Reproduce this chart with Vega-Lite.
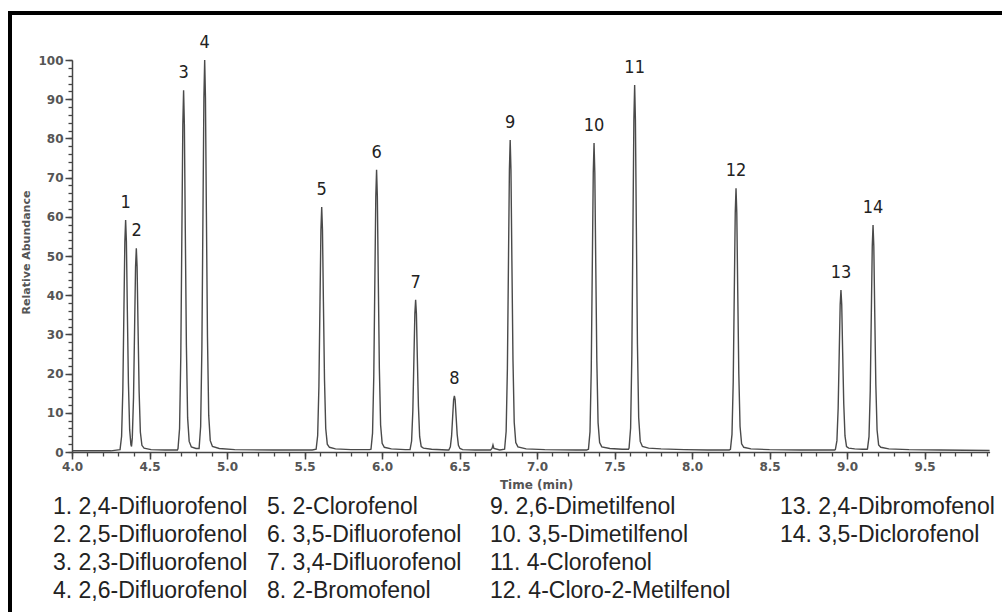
{
  "$schema": "https://vega.github.io/schema/vega-lite/v6.json",
  "width": 1000,
  "height": 607,
  "autosize": {"type": "none"},
  "padding": {"left": 10, "top": 13, "right": 0, "bottom": 0},
  "background": "white",
  "config": {"view": {"stroke": "black", "strokeWidth": 4}},
  "datasets": {
    "trace": [
      {"t": 4.0, "v": 0.3}, {"t": 4.25, "v": 0.3},
      {"t": 4.310, "v": 0.6}, {"t": 4.320, "v": 4.0}, {"t": 4.328, "v": 15.9}, {"t": 4.335, "v": 36.3}, {"t": 4.341, "v": 53.7}, {"t": 4.346, "v": 59.2}, {"t": 4.351, "v": 53.7}, {"t": 4.357, "v": 36.3}, {"t": 4.364, "v": 17.6}, {"t": 4.372, "v": 5.7}, {"t": 4.380, "v": 1.9},
      {"t": 4.384, "v": 1.4}, {"t": 4.389, "v": 3.6}, {"t": 4.397, "v": 14.0}, {"t": 4.404, "v": 32.0}, {"t": 4.410, "v": 47.2}, {"t": 4.415, "v": 52.0}, {"t": 4.420, "v": 47.2}, {"t": 4.426, "v": 32.0}, {"t": 4.433, "v": 15.5}, {"t": 4.441, "v": 5.1}, {"t": 4.451, "v": 1.7}, {"t": 4.465, "v": 1.0}, {"t": 4.51, "v": 0.6}, {"t": 4.60, "v": 0.5}, {"t": 4.68, "v": 0.5},
      {"t": 4.684, "v": 0.9}, {"t": 4.694, "v": 6.0}, {"t": 4.702, "v": 24.6}, {"t": 4.709, "v": 56.4}, {"t": 4.715, "v": 83.5}, {"t": 4.720, "v": 92.3}, {"t": 4.725, "v": 83.5}, {"t": 4.731, "v": 56.4}, {"t": 4.738, "v": 27.2}, {"t": 4.746, "v": 8.7}, {"t": 4.756, "v": 2.7}, {"t": 4.770, "v": 1.3}, {"t": 4.80, "v": 0.9},
      {"t": 4.820, "v": 0.9}, {"t": 4.830, "v": 6.5}, {"t": 4.838, "v": 26.6}, {"t": 4.845, "v": 61.1}, {"t": 4.851, "v": 90.4}, {"t": 4.856, "v": 100}, {"t": 4.861, "v": 90.4}, {"t": 4.867, "v": 61.1}, {"t": 4.874, "v": 29.4}, {"t": 4.882, "v": 9.4}, {"t": 4.892, "v": 2.9}, {"t": 4.906, "v": 1.4}, {"t": 4.95, "v": 0.9}, {"t": 5.05, "v": 0.6}, {"t": 5.30, "v": 0.5}, {"t": 5.55, "v": 0.5},
      {"t": 5.575, "v": 0.7}, {"t": 5.585, "v": 4.2}, {"t": 5.593, "v": 16.8}, {"t": 5.600, "v": 38.3}, {"t": 5.606, "v": 56.7}, {"t": 5.611, "v": 62.5}, {"t": 5.616, "v": 56.7}, {"t": 5.622, "v": 38.3}, {"t": 5.629, "v": 18.5}, {"t": 5.637, "v": 6.0}, {"t": 5.647, "v": 2.0}, {"t": 5.661, "v": 1.2}, {"t": 5.70, "v": 0.8}, {"t": 5.80, "v": 0.6}, {"t": 5.92, "v": 0.6},
      {"t": 5.929, "v": 0.7}, {"t": 5.939, "v": 4.8}, {"t": 5.947, "v": 19.3}, {"t": 5.954, "v": 44.1}, {"t": 5.960, "v": 65.2}, {"t": 5.965, "v": 72.0}, {"t": 5.970, "v": 65.2}, {"t": 5.976, "v": 44.1}, {"t": 5.983, "v": 21.3}, {"t": 5.991, "v": 6.9}, {"t": 6.001, "v": 2.2}, {"t": 6.015, "v": 1.2}, {"t": 6.06, "v": 0.8}, {"t": 6.15, "v": 0.6},
      {"t": 6.181, "v": 0.6}, {"t": 6.191, "v": 2.8}, {"t": 6.199, "v": 10.6}, {"t": 6.206, "v": 24.0}, {"t": 6.212, "v": 35.3}, {"t": 6.217, "v": 38.8}, {"t": 6.222, "v": 35.3}, {"t": 6.228, "v": 24.0}, {"t": 6.235, "v": 11.7}, {"t": 6.243, "v": 3.9}, {"t": 6.253, "v": 1.4}, {"t": 6.267, "v": 1.0}, {"t": 6.32, "v": 0.7}, {"t": 6.42, "v": 0.5},
      {"t": 6.431, "v": 0.5}, {"t": 6.441, "v": 1.3}, {"t": 6.449, "v": 4.1}, {"t": 6.456, "v": 9.1}, {"t": 6.462, "v": 13.3}, {"t": 6.467, "v": 14.3}, {"t": 6.472, "v": 13.3}, {"t": 6.478, "v": 9.1}, {"t": 6.485, "v": 4.5}, {"t": 6.493, "v": 1.7}, {"t": 6.503, "v": 0.9}, {"t": 6.52, "v": 0.6}, {"t": 6.60, "v": 0.5}, {"t": 6.70, "v": 0.5},
      {"t": 6.710, "v": 0.9}, {"t": 6.716, "v": 1.8}, {"t": 6.722, "v": 0.9}, {"t": 6.76, "v": 0.5},
      {"t": 6.791, "v": 0.7}, {"t": 6.801, "v": 5.3}, {"t": 6.809, "v": 21.3}, {"t": 6.816, "v": 48.7}, {"t": 6.822, "v": 72.0}, {"t": 6.827, "v": 79.6}, {"t": 6.832, "v": 72.0}, {"t": 6.838, "v": 48.7}, {"t": 6.845, "v": 23.5}, {"t": 6.853, "v": 7.6}, {"t": 6.863, "v": 2.4}, {"t": 6.877, "v": 1.3}, {"t": 6.93, "v": 0.8}, {"t": 7.05, "v": 0.6}, {"t": 7.25, "v": 0.5}, {"t": 7.32, "v": 0.5},
      {"t": 7.332, "v": 0.7}, {"t": 7.342, "v": 5.2}, {"t": 7.350, "v": 21.0}, {"t": 7.357, "v": 48.2}, {"t": 7.363, "v": 71.3}, {"t": 7.368, "v": 78.8}, {"t": 7.373, "v": 71.3}, {"t": 7.379, "v": 48.2}, {"t": 7.386, "v": 23.3}, {"t": 7.394, "v": 7.5}, {"t": 7.404, "v": 2.4}, {"t": 7.418, "v": 1.3}, {"t": 7.47, "v": 0.9}, {"t": 7.55, "v": 0.7}, {"t": 7.59, "v": 0.7},
      {"t": 7.594, "v": 1.0}, {"t": 7.604, "v": 6.1}, {"t": 7.612, "v": 24.9}, {"t": 7.619, "v": 57.2}, {"t": 7.625, "v": 84.6}, {"t": 7.630, "v": 93.6}, {"t": 7.635, "v": 84.6}, {"t": 7.641, "v": 57.2}, {"t": 7.648, "v": 27.5}, {"t": 7.656, "v": 8.8}, {"t": 7.666, "v": 2.7}, {"t": 7.680, "v": 1.4}, {"t": 7.72, "v": 1.0}, {"t": 7.80, "v": 0.8}, {"t": 7.95, "v": 0.6}, {"t": 8.10, "v": 0.5}, {"t": 8.24, "v": 0.5},
      {"t": 8.248, "v": 0.7}, {"t": 8.258, "v": 4.5}, {"t": 8.266, "v": 18.0}, {"t": 8.273, "v": 41.3}, {"t": 8.279, "v": 61.0}, {"t": 8.284, "v": 67.3}, {"t": 8.289, "v": 61.0}, {"t": 8.295, "v": 41.3}, {"t": 8.302, "v": 19.9}, {"t": 8.310, "v": 6.5}, {"t": 8.320, "v": 2.1}, {"t": 8.334, "v": 1.2}, {"t": 8.38, "v": 0.8}, {"t": 8.50, "v": 0.6}, {"t": 8.70, "v": 0.5}, {"t": 8.92, "v": 0.5},
      {"t": 8.925, "v": 0.6}, {"t": 8.935, "v": 2.9}, {"t": 8.943, "v": 11.2}, {"t": 8.950, "v": 25.5}, {"t": 8.956, "v": 37.6}, {"t": 8.961, "v": 41.3}, {"t": 8.966, "v": 37.6}, {"t": 8.972, "v": 25.5}, {"t": 8.979, "v": 12.4}, {"t": 8.987, "v": 4.1}, {"t": 8.997, "v": 1.4}, {"t": 9.011, "v": 1.0}, {"t": 9.05, "v": 0.8}, {"t": 9.10, "v": 0.7}, {"t": 9.13, "v": 0.7},
      {"t": 9.132, "v": 0.8}, {"t": 9.142, "v": 3.9}, {"t": 9.150, "v": 15.6}, {"t": 9.157, "v": 35.5}, {"t": 9.163, "v": 52.5}, {"t": 9.168, "v": 57.9}, {"t": 9.173, "v": 52.5}, {"t": 9.179, "v": 35.5}, {"t": 9.186, "v": 17.2}, {"t": 9.194, "v": 5.6}, {"t": 9.204, "v": 1.8}, {"t": 9.218, "v": 1.2}, {"t": 9.27, "v": 0.8}, {"t": 9.40, "v": 0.6}, {"t": 9.60, "v": 0.5}, {"t": 9.92, "v": 0.4}
    ],
    "peaks": [
      {"label": "1", "t": 4.346, "h": 59.2},
      {"label": "2", "t": 4.417, "h": 52.0},
      {"label": "3", "t": 4.720, "h": 92.3},
      {"label": "4", "t": 4.856, "h": 100},
      {"label": "5", "t": 5.611, "h": 62.5},
      {"label": "6", "t": 5.965, "h": 72.0},
      {"label": "7", "t": 6.217, "h": 38.8},
      {"label": "8", "t": 6.467, "h": 14.3},
      {"label": "9", "t": 6.827, "h": 79.6},
      {"label": "10", "t": 7.368, "h": 78.8},
      {"label": "11", "t": 7.630, "h": 93.6},
      {"label": "12", "t": 8.284, "h": 67.3},
      {"label": "13", "t": 8.961, "h": 41.3},
      {"label": "14", "t": 9.168, "h": 57.9}
    ],
    "legend": [
      {"name": "1. 2,4-Difluorofenol", "col": 0, "row": 0},
      {"name": "2. 2,5-Difluorofenol", "col": 0, "row": 1},
      {"name": "3. 2,3-Difluorofenol", "col": 0, "row": 2},
      {"name": "4. 2,6-Difluorofenol", "col": 0, "row": 3},
      {"name": "5. 2-Clorofenol", "col": 1, "row": 0},
      {"name": "6. 3,5-Difluorofenol", "col": 1, "row": 1},
      {"name": "7. 3,4-Difluorofenol", "col": 1, "row": 2},
      {"name": "8. 2-Bromofenol", "col": 1, "row": 3},
      {"name": "9. 2,6-Dimetilfenol", "col": 2, "row": 0},
      {"name": "10. 3,5-Dimetilfenol", "col": 2, "row": 1},
      {"name": "11. 4-Clorofenol", "col": 2, "row": 2},
      {"name": "12. 4-Cloro-2-Metilfenol", "col": 2, "row": 3},
      {"name": "13. 2,4-Dibromofenol", "col": 3, "row": 0},
      {"name": "14. 3,5-Diclorofenol", "col": 3, "row": 1}
    ]
  },
  "layer": [
    {
      "layer": [
        {
          "data": {"name": "trace"},
          "mark": {"type": "line", "color": "#4a4a4a", "strokeWidth": 1.4, "interpolate": "linear"},
          "encoding": {
            "x": {
              "field": "t", "type": "quantitative",
              "scale": {"domain": [4, 9.92], "range": [62, 979.6], "nice": false, "zero": false},
              "axis": {
                "orient": "bottom",
                "values": [4, 4.5, 5, 5.5, 6, 6.5, 7, 7.5, 8, 8.5, 9, 9.5],
                "format": ".1f", "offset": -168, "grid": false,
                "tickSize": 7, "tickColor": "#444", "tickWidth": 1.5,
                "domainColor": "#444", "domainWidth": 1.5,
                "labelFont": "DejaVu Sans", "labelFontSize": 12, "labelFontWeight": "bold", "labelColor": "#555", "labelPadding": 2, "labelFlush": false, "labelOverlap": false,
                "title": "Time (min)", "titleFont": "DejaVu Sans", "titleFontSize": 12, "titleFontWeight": "bold", "titleColor": "#555",
                "titleX": 526, "titleY": 32, "titleAlign": "center", "titleBaseline": "middle"
              }
            },
            "y": {
              "field": "v", "type": "quantitative",
              "scale": {"domain": [0, 100], "range": [439, 47], "nice": false, "zero": false},
              "axis": {
                "orient": "left",
                "values": [0, 10, 20, 30, 40, 50, 60, 70, 80, 90, 100],
                "offset": -62, "grid": false,
                "tickSize": 7, "tickColor": "#444", "tickWidth": 1.5,
                "domainColor": "#444", "domainWidth": 1.5,
                "labelFont": "DejaVu Sans", "labelFontSize": 12, "labelFontWeight": "bold", "labelColor": "#555", "labelPadding": 2, "labelFlush": false, "labelOverlap": false,
                "title": "Relative Abundance", "titleFont": "DejaVu Sans", "titleFontSize": 11, "titleFontWeight": "bold", "titleColor": "#555",
                "titleX": -46, "titleY": 239, "titleAngle": -90, "titleAlign": "center", "titleBaseline": "middle"
              }
            }
          }
        },
        {
          "data": {"name": "peaks"},
          "mark": {"type": "text", "font": "DejaVu Sans Condensed, Liberation Sans Narrow, Liberation Sans, sans-serif", "fontSize": 18, "color": "#222", "align": "center", "baseline": "alphabetic", "dy": -12},
          "encoding": {
            "x": {
              "field": "t", "type": "quantitative",
              "scale": {"domain": [4, 9.92], "range": [62, 979.6], "nice": false, "zero": false},
              "axis": {
                "orient": "bottom",
                "values": [4.0, 4.1, 4.2, 4.3, 4.4, 4.5, 4.6, 4.7, 4.8, 4.9, 5.0, 5.1, 5.2, 5.3, 5.4, 5.5, 5.6, 5.7, 5.8, 5.9, 6.0, 6.1, 6.2, 6.3, 6.4, 6.5, 6.6, 6.7, 6.8, 6.9, 7.0, 7.1, 7.2, 7.3, 7.4, 7.5, 7.6, 7.7, 7.8, 7.9, 8.0, 8.1, 8.2, 8.3, 8.4, 8.5, 8.6, 8.7, 8.8, 8.9, 9.0, 9.1, 9.2, 9.3, 9.4, 9.5, 9.6, 9.7, 9.8, 9.9],
                "offset": -168, "grid": false, "labels": false, "domain": false, "title": null,
                "tickSize": 4, "tickColor": "#444", "tickWidth": 1.3
              }
            },
            "y": {
              "field": "h", "type": "quantitative",
              "scale": {"domain": [0, 100], "range": [439, 47], "nice": false, "zero": false},
              "axis": {
                "orient": "left",
                "values": [0, 2, 4, 6, 8, 10, 12, 14, 16, 18, 20, 22, 24, 26, 28, 30, 32, 34, 36, 38, 40, 42, 44, 46, 48, 50, 52, 54, 56, 58, 60, 62, 64, 66, 68, 70, 72, 74, 76, 78, 80, 82, 84, 86, 88, 90, 92, 94, 96, 98, 100],
                "offset": -62, "grid": false, "labels": false, "domain": false, "title": null,
                "tickSize": 4, "tickColor": "#444", "tickWidth": 1.3
              }
            },
            "text": {"field": "label"}
          }
        }
      ],
      "resolve": {"axis": {"x": "independent", "y": "independent"}}
    },
    {
      "data": {"name": "legend"},
      "mark": {"type": "text", "font": "Liberation Sans, Arial, sans-serif", "fontSize": 23, "color": "#222", "align": "left", "baseline": "middle"},
      "encoding": {
        "x": {"field": "col", "type": "quantitative", "scale": {"domain": [0, 1, 2, 3], "range": [43, 257, 480, 770], "nice": false, "zero": false}, "axis": null},
        "y": {"field": "row", "type": "quantitative", "scale": {"domain": [0, 3], "range": [494, 578], "nice": false, "zero": false}, "axis": null},
        "text": {"field": "name"}
      }
    }
  ],
  "resolve": {"scale": {"x": "independent", "y": "independent"}}
}
